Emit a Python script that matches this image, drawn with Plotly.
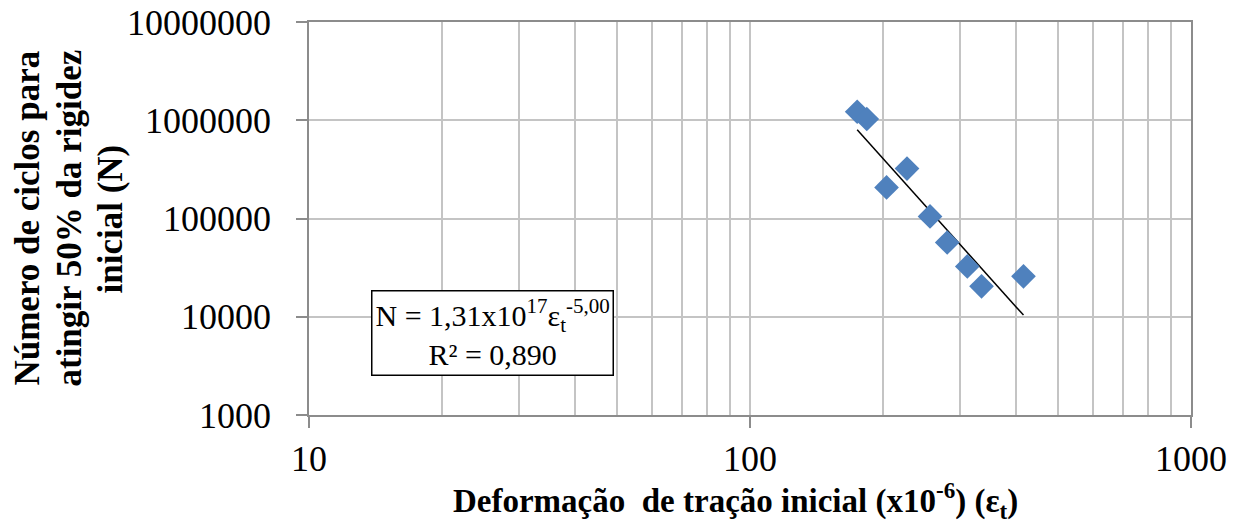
import plotly.graph_objects as go
import numpy as np

# Data
strain = [175, 184, 204, 227, 256, 280, 311, 335, 417]
cycles = [1220000, 1030000, 207000, 322000, 105000, 57000, 32500, 20400, 25800]

# Fit: N = 1.31e17 * eps^-5.00
fit_coef = 1.31e17
fit_exp = -5.00

x_ticks = [10, 100, 1000]
x_tick_text = ["10", "100", "1000"]
x_minor = [20, 30, 40, 50, 60, 70, 80, 90, 200, 300, 400, 500, 600, 700, 800, 900]
y_ticks = [1000, 10000, 100000, 1000000, 10000000]
y_tick_text = ["1000", "10000", "100000", "1000000", "10000000"]
y_title_lines = ["Número de ciclos para", "atingir 50% da rigidez", "inicial (N)"]
x_title = "Deformação  de tração inicial (x10<sup>-6</sup>) (ε<sub>t</sub>)"

FONT = "Liberation Serif"
GRID = "#c4c4c4"
AXIS = "#8c8c8c"

fit_x = np.array([min(strain), max(strain)], dtype=float)
fit_y = fit_coef * fit_x ** fit_exp

fig = go.Figure()
fig.add_trace(go.Scatter(
    x=fit_x, y=fit_y, mode="lines",
    line=dict(color="black", width=1.5), showlegend=False, hoverinfo="skip"))
fig.add_trace(go.Scatter(
    x=strain, y=cycles, mode="markers",
    marker=dict(symbol="diamond", size=19, color="#4F81BD"),
    showlegend=False))

annotations = [dict(
    xref="paper", yref="paper", x=0.2075, y=0.209,
    xanchor="center", yanchor="middle",
    text="N = 1,31x10<sup>17</sup>ε<sub>t</sub><sup>-5,00</sup><br>R² = 0,890",
    showarrow=False, align="center",
    font=dict(size=30, family=FONT, color="black"),
    bgcolor="white", bordercolor="black", borderwidth=1.5, borderpad=3,
)]
# y title lines (rotated), x positions in paper coords
for line, xp in zip(y_title_lines, [-0.3197, -0.2721, -0.2245]):
    annotations.append(dict(
        xref="paper", yref="paper", x=xp, y=0.5,
        xanchor="center", yanchor="middle", textangle=-90,
        text="<b>" + line + "</b>", showarrow=False,
        font=dict(size=35, family=FONT, color="black")))
annotations.append(dict(
    xref="paper", yref="paper", x=0.483, y=-0.218,
    xanchor="center", yanchor="middle",
    text="<b>" + x_title + "</b>", showarrow=False,
    font=dict(size=33, family=FONT, color="black")))

fig.update_layout(
    width=1236, height=525,
    margin=dict(l=309, r=45, t=22, b=110),
    paper_bgcolor="white", plot_bgcolor="white",
    font=dict(family=FONT, color="black"),
    xaxis=dict(
        type="log", range=[1, 3], automargin=False,
        tickvals=x_ticks, ticktext=x_tick_text,
        tickfont=dict(size=36, family=FONT, color="black"),
        ticks="outside", ticklen=11, tickcolor=AXIS, tickwidth=1.5,
        showgrid=True, gridcolor=GRID, gridwidth=1.5,
        minor=dict(tickvals=x_minor, showgrid=True, gridcolor=GRID, gridwidth=1.5, ticks=""),
        showline=True, linecolor=AXIS, linewidth=1.5, mirror=True,
        zeroline=False,
    ),
    yaxis=dict(
        type="log", range=[3, 7], automargin=False,
        tickvals=y_ticks, ticktext=y_tick_text,
        tickfont=dict(size=36, family=FONT, color="black"),
        ticks="outside", ticklen=11, tickcolor=AXIS, tickwidth=1.5,
        ticklabelstandoff=18,
        showgrid=True, gridcolor=GRID, gridwidth=1.5,
        showline=True, linecolor=AXIS, linewidth=1.5, mirror=True,
        zeroline=False,
    ),
    annotations=annotations,
)

fig.write_html("out.html", config={"displayModeBar": False},
               post_script="document.body.style.margin='0px';")
